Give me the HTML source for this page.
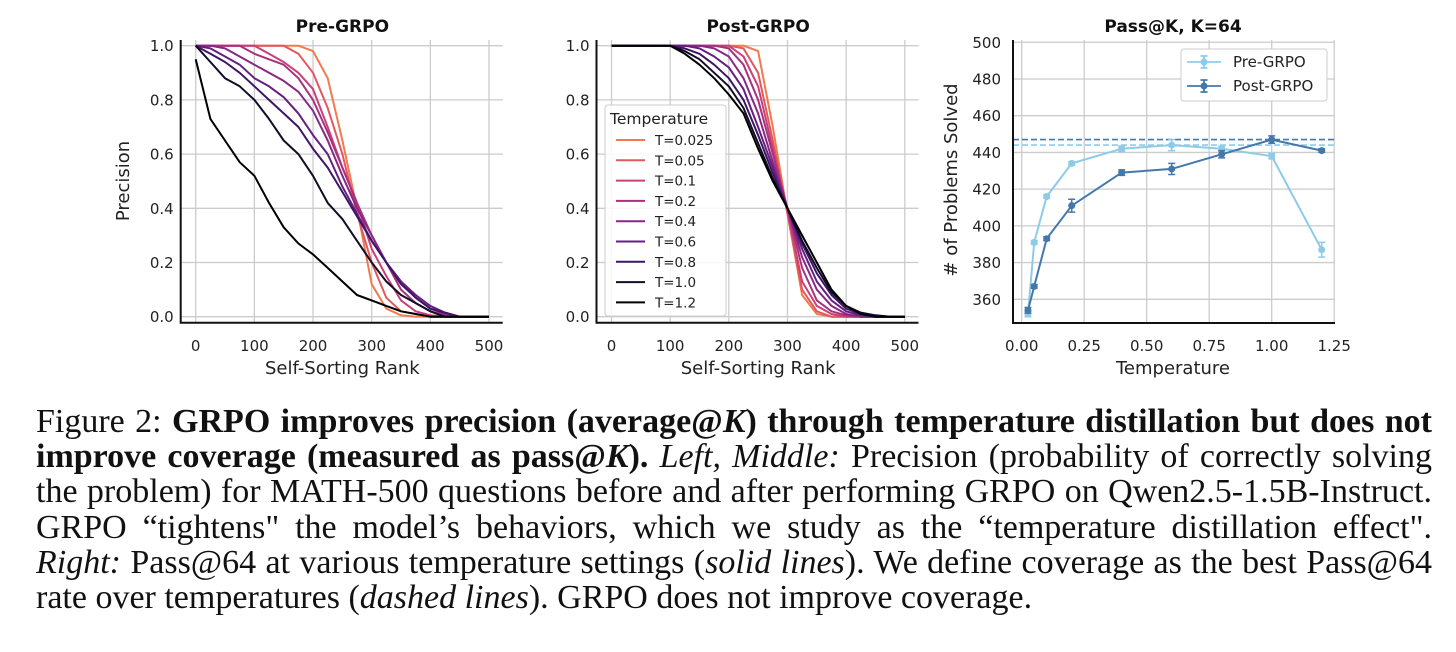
<!DOCTYPE html>
<html><head><meta charset="utf-8">
<style>
body{margin:0;width:1456px;height:652px;background:#fff;overflow:hidden;font-family:"DejaVu Sans","Liberation Sans",sans-serif}
#cap{position:absolute;left:36px;top:404px;width:1396px;font-family:"Liberation Serif",serif;font-size:34px;line-height:35.2px;color:#111}
#cap .l{text-align:justify;text-align-last:justify;white-space:nowrap}
#cap .l.last{text-align-last:left}
</style></head><body>
<svg id="fig" width="1456" height="390" style="position:absolute;left:0;top:0" font-family="DejaVu Sans, Liberation Sans, sans-serif"></svg>
<div id="cap">
<div class="l">Figure 2: <b>GRPO improves precision (average@<i>K</i>) through temperature distillation but does not</b></div>
<div class="l"><b>improve coverage (measured as pass@<i>K</i>).</b> <i>Left, Middle:</i> Precision (probability of correctly solving</div>
<div class="l">the problem) for MATH-500 questions before and after performing GRPO on Qwen2.5-1.5B-Instruct.</div>
<div class="l">GRPO “tightens" the model’s behaviors, which we study as the “temperature distillation effect".</div>
<div class="l"><i>Right:</i> Pass@64 at various temperature settings (<i>solid lines</i>). We define coverage as the best Pass@64</div>
<div class="l last">rate over temperatures (<i>dashed lines</i>). GRPO does not improve coverage.</div>
</div>
<script>
const ranks=[0,25,50,75,100,125,150,175,200,225,250,275,300,325,350,375,400,425,450,475,500];
const temps=["T=0.025","T=0.05","T=0.1","T=0.2","T=0.4","T=0.6","T=0.8","T=1.0","T=1.2"];
const preT0025=[1,1,1,1,1,1,1,1,0.98,0.88,0.65,0.4,0.12,0.03,0.005,0,0,0,0,0,0];
const preT005=[1,1,1,1,1,1,1,0.97,0.9,0.77,0.6,0.38,0.2,0.07,0.02,0.01,0,0,0,0,0];
const preT01=[1,1,1,1,1,0.97,0.94,0.9,0.84,0.7,0.55,0.42,0.25,0.15,0.06,0.02,0.005,0,0,0,0];
const preT02=[1,1,1,1,0.97,0.95,0.93,0.88,0.8,0.68,0.55,0.42,0.3,0.2,0.1,0.05,0.02,0.005,0,0,0];
const preT04=[1,1,0.99,0.96,0.93,0.9,0.87,0.83,0.76,0.65,0.52,0.4,0.3,0.2,0.13,0.07,0.03,0.01,0,0,0];
const preT06=[1,0.99,0.96,0.93,0.88,0.85,0.81,0.75,0.67,0.6,0.48,0.38,0.28,0.2,0.13,0.08,0.04,0.015,0,0,0];
const preT08=[1,0.97,0.94,0.9,0.85,0.8,0.75,0.7,0.62,0.55,0.46,0.37,0.28,0.2,0.12,0.07,0.03,0.015,0,0,0];
const preT10=[1,0.94,0.88,0.85,0.8,0.73,0.65,0.6,0.52,0.42,0.36,0.28,0.2,0.13,0.08,0.05,0.02,0,0,0,0];
const preT12=[0.95,0.73,0.65,0.57,0.52,0.42,0.33,0.27,0.23,0.18,0.13,0.08,0.06,0.04,0.02,0.01,0,0,0,0,0];
const postT0025=[1,1,1,1,1,1,1,1,1,1,0.98,0.7,0.38,0.08,0.01,0,0,0,0,0,0];
const postT005=[1,1,1,1,1,1,1,1,1,0.99,0.9,0.65,0.38,0.1,0.02,0,0,0,0,0,0];
const postT01=[1,1,1,1,1,1,1,1,1,0.96,0.85,0.62,0.39,0.13,0.04,0.01,0,0,0,0,0];
const postT02=[1,1,1,1,1,1,1,1,0.99,0.93,0.8,0.6,0.4,0.18,0.06,0.02,0.005,0,0,0,0];
const postT04=[1,1,1,1,1,1,1,0.99,0.96,0.88,0.75,0.57,0.4,0.22,0.1,0.04,0.01,0,0,0,0];
const postT06=[1,1,1,1,1,1,0.99,0.96,0.92,0.84,0.7,0.55,0.4,0.25,0.13,0.06,0.02,0.005,0,0,0];
const postT08=[1,1,1,1,1,0.99,0.97,0.93,0.88,0.8,0.67,0.53,0.4,0.27,0.16,0.08,0.03,0.01,0,0,0];
const postT10=[1,1,1,1,1,0.98,0.95,0.9,0.85,0.77,0.64,0.51,0.4,0.28,0.18,0.09,0.04,0.015,0.005,0,0];
const postT12=[1,1,1,1,1,0.97,0.93,0.88,0.82,0.75,0.62,0.5,0.4,0.3,0.2,0.1,0.04,0.01,0,0,0];
const passTemps=[0.025,0.05,0.1,0.2,0.4,0.6,0.8,1.0,1.2];
const prePass=[352,391,416,434,442,444,442,438,387];
const preErr=[1.5,1,1,1,1.5,3,1.5,1.5,4];
const postPass=[354,367,393,411,429,431,439,447,441];
const postErr=[1.5,1,1,3.5,1.5,3,2,2,1];
const preBest=444, postBest=447;
const xTicksRank=[0,100,200,300,400,500];
const yTicksPrec=[0.0,0.2,0.4,0.6,0.8,1.0];
const xTicksT=[0.00,0.25,0.50,0.75,1.00,1.25];
const yTicksPass=[360,380,400,420,440,460,480,500];

const colors=["#f07a4f","#e2585d","#c84078","#a8317f","#8a2784","#661f80","#3c1767","#140c26","#000000"];
const NS="http://www.w3.org/2000/svg";
const svg=document.getElementById('fig');
function el(tag,attrs,parent){const e=document.createElementNS(NS,tag);for(const k in attrs)e.setAttribute(k,attrs[k]);(parent||svg).appendChild(e);return e;}
function txt(s,attrs,parent){const e=el('text',attrs,parent);e.textContent=s;return e;}

function precPanel(x0,title,series,nameP,legend){
  const g=el('g',{});
  
  
  const X=r=>x0+r*(293.3/500), Y=p=>316.7-p*271;
  const left=x0-15, right=x0+307, top=40, bottom=322.7;
  xTicksRank.forEach(t=>{const gl=el('line',{x1:X(t),x2:X(t),y1:top,y2:bottom,stroke:'#cccccc','stroke-width':1.3},g);
    
    const tl=txt(String(t),{x:X(t),y:351,'font-size':15,'text-anchor':'middle',fill:'#222'},g);
    });
  yTicksPrec.forEach(t=>{const gl=el('line',{x1:left,x2:right,y1:Y(t),y2:Y(t),stroke:'#cccccc','stroke-width':1.3},g);
    
    const tl=txt(t.toFixed(1),{x:left-7,y:Y(t)+5.5,'font-size':15,'text-anchor':'end',fill:'#222'},g);
    });
  series.forEach((s,i)=>{let d='';s.forEach((v,j)=>{d+=(j?'L':'M')+X(ranks[j]).toFixed(1)+' '+Y(v).toFixed(1);});
    const p=el('path',{d:d,fill:'none',stroke:colors[i],'stroke-width':2,'stroke-linejoin':'round'},g);
    });
  const ax=el('path',{d:`M${left} ${top}V${bottom}H${right}`,fill:'none',stroke:'#111','stroke-width':2},g);
  
  const tt=txt(title,{x:X(250),y:32,'font-size':17,'font-weight':'bold','text-anchor':'middle',fill:'#111'},g);
  
  const xl=txt('Self-Sorting Rank',{x:X(250),y:374,'font-size':18,'text-anchor':'middle',fill:'#222'},g);
  
  if(legend){
    const lg=el('g',{},g);
    
    el('rect',{x:605,y:105,width:121,height:211,rx:3,fill:'#fff','fill-opacity':0.85,stroke:'#ccc'},lg);
    txt('Temperature',{x:610,y:124,'font-size':15.5,fill:'#222'},lg);
    temps.forEach((t,i)=>{const yy=140+i*20.3;
      el('line',{x1:616,x2:645,y1:yy,y2:yy,stroke:colors[i],'stroke-width':2},lg);
      const le=txt(t,{x:655,y:yy+5,'font-size':13.5,fill:'#222'},lg);
      });
  }
}
precPanel(195.7,'Pre-GRPO',[preT0025,preT005,preT01,preT02,preT04,preT06,preT08,preT10,preT12],'pre',false);
precPanel(611.5,'Post-GRPO',[postT0025,postT005,postT01,postT02,postT04,postT06,postT08,postT10,postT12],'post',true);
const yl=txt('Precision',{x:0,y:0,'font-size':18,'text-anchor':'middle',fill:'#222',transform:'translate(129,181) rotate(-90)'});


(function(){
  const g=el('g',{});
  
  const X=t=>1021.7+t*250, Y=v=>299.3-(v-360)*1.836;
  const left=1013,right=1335,top=40,bottom=323;
  xTicksT.forEach(t=>{const gl=el('line',{x1:X(t),x2:X(t),y1:top,y2:bottom,stroke:'#cccccc','stroke-width':1.3},g);
    
    const tl=txt(t.toFixed(2),{x:X(t),y:351,'font-size':15,'text-anchor':'middle',fill:'#222'},g);
    });
  yTicksPass.forEach(t=>{const gl=el('line',{x1:left,x2:right,y1:Y(t),y2:Y(t),stroke:'#cccccc','stroke-width':1.3},g);
    
    const tl=txt(String(t),{x:1001,y:Y(t)+5.5,'font-size':15,'text-anchor':'end',fill:'#222'},g);
    });
  const cPre='#8ecbe8', cPost='#4477aa';
  const d1=el('line',{x1:left,x2:right,y1:Y(preBest),y2:Y(preBest),stroke:cPre,'stroke-width':1.6,'stroke-dasharray':'6,3'},g);
  
  const d2=el('line',{x1:left,x2:right,y1:Y(postBest),y2:Y(postBest),stroke:cPost,'stroke-width':1.6,'stroke-dasharray':'6,3'},g);
  
  function series(vals,errs,c,name){
    const d=vals.map((v,i)=>(i?'L':'M')+X(passTemps[i]).toFixed(1)+' '+Y(v).toFixed(1)).join('');
    const p=el('path',{d:d,fill:'none',stroke:c,'stroke-width':2},g);
    
    vals.forEach((v,i)=>{const x=X(passTemps[i]);const e=errs[i];
      const eb=el('path',{d:`M${x} ${Y(v+e)}V${Y(v-e)}M${x-3.5} ${Y(v+e)}h7M${x-3.5} ${Y(v-e)}h7`,stroke:c,'stroke-width':1.5,fill:'none'},g);
      
      const pt=el('circle',{cx:x,cy:Y(v),r:3.5,fill:c},g);
      });
  }
  series(prePass,preErr,cPre,'pre-grpo');
  series(postPass,postErr,cPost,'post-grpo');
  const ax=el('path',{d:`M${left} ${top}V${bottom}H${right}`,fill:'none',stroke:'#111','stroke-width':2},g);
  
  const tt=txt('Pass@K, K=64',{x:1173,y:32,'font-size':17,'font-weight':'bold','text-anchor':'middle',fill:'#111'},g);
  
  const xl=txt('Temperature',{x:1173,y:374,'font-size':18,'text-anchor':'middle',fill:'#222'},g);
  
  const yl2=txt('# of Problems Solved',{x:0,y:0,'font-size':18,'text-anchor':'middle',fill:'#222',transform:'translate(957,180) rotate(-90)'},g);
  
  const lg=el('g',{},g);
  
  el('rect',{x:1181,y:49,width:146,height:52,rx:3,fill:'#fff',stroke:'#ccc'},lg);
  [['Pre-GRPO',cPre,62],['Post-GRPO',cPost,86]].forEach(([n,c,yy])=>{
    el('path',{d:`M1187 ${yy}h34M1204 ${yy-6}v12M1200.5 ${yy-6}h7M1200.5 ${yy+6}h7`,stroke:c,'stroke-width':1.8,fill:'none'},lg);
    el('circle',{cx:1204,cy:yy,r:3.5,fill:c},lg);
    const le=txt(n,{x:1233,y:yy+5,'font-size':15,fill:'#222'},lg);
    });
})();
</script>
</body></html>
